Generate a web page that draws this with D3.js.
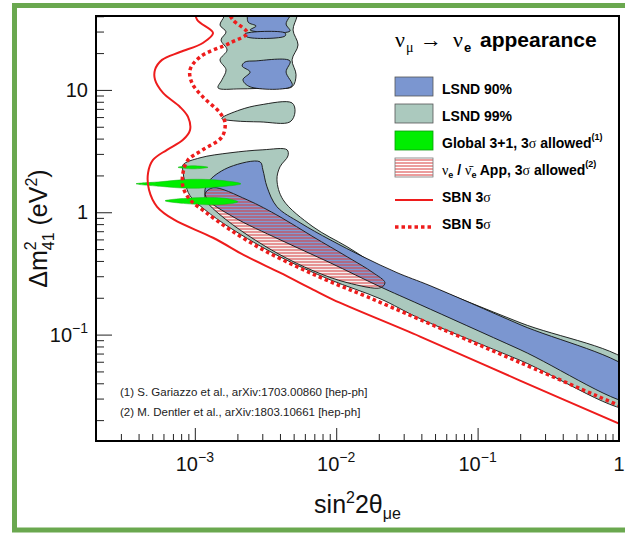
<!DOCTYPE html>
<html>
<head>
<meta charset="utf-8">
<script src="https://cdn.jsdelivr.net/npm/d3@7"></script>
<style>
body { margin: 0; background: #fff; }
svg { display: block; font-family: "Liberation Sans", Arial, Helvetica, sans-serif; }
</style>
</head>
<body>
<svg id="chart" width="625" height="533"></svg>
<script>
// ---- data: [sin^2 2theta, dm^2 (eV^2)] ----
const xMajor = [1e-3, 1e-2, 1e-1, 1]
const xMajorLabels = [['10', '\u22123'], ['10', '\u22122'], ['10', '\u22121'], ['1', '']]
const yMajor = [0.1, 1, 10]
const yMajorLabels = [['10', '\u22121'], ['1', ''], ['10', '']]

const lsnd99Main = [
  [8.25e-4, 2.44], [1.088e-3, 2.786], [1.774e-3, 3.06], [3.03e-3, 3.24], [4.49e-3, 3.24],
  [4.56e-3, 2.89], [4.00e-3, 2.35], [3.81e-3, 1.842], [4.21e-3, 1.265], [6.85e-3, 0.761],
  [1.193e-2, 0.523], [2.04e-2, 0.359], [3.92e-2, 0.266], [0.1995, 0.1253], [1.3, 0.0535],
  [1.3, 0.02503], [0.1995, 0.0617], [3.92e-2, 0.1351], [2.04e-2, 0.1967], [9.04e-3, 0.281],
  [4.00e-3, 0.433], [1.774e-3, 0.747], [1.18e-3, 1.048], [9.25e-4, 1.364], [8.53e-4, 1.741],
  [8.25e-4, 2.14]
]
const lsnd99Top = [
  [1.609e-3, 45], [1.609e-3, 40], [1.507e-3, 33.9], [1.662e-3, 29.8], [1.532e-3, 25.6],
  [1.69e-3, 21.2], [1.507e-3, 17.6], [1.662e-3, 14.6], [1.556e-3, 12.1], [1.459e-3, 10.4],
  [2.088e-3, 10.2], [3.40e-3, 10.4], [4.87e-3, 10.6], [5.20e-3, 13.3], [4.87e-3, 17.6],
  [5.37e-3, 23.3], [4.95e-3, 30.9], [5.28e-3, 40], [5.28e-3, 45]
]
const lsnd99Mid = [
  [1.556e-3, 5.91], [2.088e-3, 6.87], [2.89e-3, 7.54], [4.87e-3, 7.83], [5.11e-3, 6.61],
  [4.71e-3, 5.48], [2.89e-3, 5.48], [1.925e-3, 5.58], [1.556e-3, 5.80]
]
const lsnd90Main = [
  [1.18e-3, 1.527], [1.281e-3, 1.842], [1.774e-3, 2.35], [2.89e-3, 2.584], [3.03e-3, 2.22],
  [3.24e-3, 1.615], [3.81e-3, 1.109], [5.55e-3, 0.821], [9.04e-3, 0.5964], [1.547e-2, 0.433],
  [2.69e-2, 0.321], [4.61e-2, 0.2512], [0.1995, 0.1207], [1.3, 0.0472], [1.3, 0.02828],
  [0.1995, 0.0754], [3.92e-2, 0.1758], [2.04e-2, 0.2464], [9.04e-3, 0.387], [4.00e-3, 0.5964],
  [1.862e-3, 0.919], [1.22e-3, 1.289]
]
const lsnd90Islands = [
  [[2.46e-3, 45], [2.38e-3, 35.9], [2.71e-3, 33.3], [2.46e-3, 30.9], [4.71e-3, 30.3], [4.42e-3, 34.6], [4.87e-3, 45]],
  [[2.26e-3, 28.7], [4.35e-3, 29.2], [4.35e-3, 27.6], [2.34e-3, 27.1]],
  [[2.26e-3, 16.9], [2.67e-3, 17.25], [4.71e-3, 17.25], [4.42e-3, 14.0], [4.87e-3, 10.8],
   [2.46e-3, 10.6], [2.19e-3, 12.1], [2.46e-3, 14.0], [2.16e-3, 15.7]]
]
const appAllowed = [
  [1.18e-3, 1.416], [1.345e-3, 1.585], [2.34e-3, 1.265], [4.00e-3, 0.919], [6.85e-3, 0.631],
  [1.193e-2, 0.433], [1.82e-2, 0.321], [2.21e-2, 0.266], [2.07e-2, 0.242], [1.193e-2, 0.266],
  [6.85e-3, 0.333], [4.00e-3, 0.450], [2.34e-3, 0.655], [1.507e-3, 0.954], [1.22e-3, 1.218]
]
const globalLobes = [
  [[7.60e-4, 2.33], [9.71e-4, 2.40], [1.24e-3, 2.33], [9.71e-4, 2.265]],
  [[3.84e-4, 1.709], [5.67e-4, 1.774], [9.25e-4, 1.859], [1.507e-3, 1.825], [2.12e-3, 1.709],
   [1.507e-3, 1.615], [9.25e-4, 1.570], [5.67e-4, 1.630]],
  [[6.16e-4, 1.241], [1.003e-3, 1.313], [1.635e-3, 1.301], [2.02e-3, 1.218], [1.635e-3, 1.162], [1.003e-3, 1.162]]
]
const sbn3Sigma = [
  [1.0e-3, 45], [1.04e-3, 37.3], [1.345e-3, 29.2], [1.14e-3, 24.2], [7.86e-4, 20.4], [5.86e-4, 17.6],
  [5.23e-4, 14.6], [5.23e-4, 12.1], [5.96e-4, 9.45], [7.86e-4, 7.26], [8.95e-4, 6.02], [9.25e-4, 4.71],
  [8.25e-4, 3.91], [6.36e-4, 3.24], [5.06e-4, 2.68], [4.67e-4, 2.10], [4.74e-4, 1.527], [5.41e-4, 1.109],
  [7.13e-4, 0.869], [1.345e-3, 0.619], [2.34e-3, 0.433], [4.00e-3, 0.321], [6.85e-3, 0.233],
  [9.48e-3, 0.193], [3.92e-2, 0.0964], [0.1995, 0.0421], [1.0, 0.01877]
]
const sbn5Sigma = [
  [1.70e-3, 45], [1.862e-3, 37.3], [2.34e-3, 29.2], [1.774e-3, 24.2], [1.088e-3, 18.6], [9.25e-4, 14.6],
  [9.55e-4, 11.4], [1.14e-3, 8.77], [1.507e-3, 6.49], [1.635e-3, 5.38], [1.556e-3, 4.13], [1.14e-3, 3.24],
  [8.95e-4, 2.68], [8.25e-4, 2.10], [8.25e-4, 1.615], [9.25e-4, 1.265], [1.18e-3, 1.01], [1.774e-3, 0.720],
  [3.03e-3, 0.494], [5.28e-3, 0.359], [9.04e-3, 0.271], [1.65e-2, 0.204], [3.92e-2, 0.1326],
  [0.1995, 0.0591], [1.0, 0.02633]
]
const footnotes = [
  '(1) S. Gariazzo et al., arXiv:1703.00860 [hep-ph]',
  '(2) M. Dentler et al., arXiv:1803.10661 [hep-ph]'
]

const BLUE = '#7b96d0'
const GREY = '#abc9be'
const GREEN = '#00ee00'
const RED = '#ee1c1c'

const frame = { left: 96, right: 619, top: 16, bottom: 441 }
const x = d3.scaleLog().domain([2e-4, 1]).range([frame.left, frame.right])
const y = d3.scaleLog().domain([0.0135, 40.2]).range([frame.bottom, frame.top])

const svg = d3.select('#chart')

// slide border
svg.append('rect')
  .attr('x', 14.5).attr('y', 5.5).attr('width', 660).attr('height', 524.5)
  .attr('fill', 'none').attr('stroke', '#6aa84f').attr('stroke-width', 5)

const defs = svg.append('defs')
defs.append('clipPath').attr('id', 'plotClip')
  .append('rect')
  .attr('x', frame.left).attr('y', frame.top)
  .attr('width', frame.right - frame.left).attr('height', frame.bottom - frame.top)

const hatch = defs.append('pattern').attr('id', 'hatch')
  .attr('patternUnits', 'userSpaceOnUse').attr('width', 8).attr('height', 3)
hatch.append('line').attr('x1', 0).attr('x2', 8).attr('y1', 1).attr('y2', 1)
  .attr('stroke', '#d83a3a').attr('stroke-width', 1)

const closed = d3.line().x(d => x(d[0])).y(d => y(d[1])).curve(d3.curveCatmullRomClosed.alpha(0.5))
const open = d3.line().x(d => x(d[0])).y(d => y(d[1])).curve(d3.curveCatmullRom.alpha(0.5))

defs.append('clipPath').attr('id', 'appClip').append('path').attr('d', closed(appAllowed))

const plot = svg.append('g').attr('clip-path', 'url(#plotClip)')

// LSND 99%
plot.append('g').selectAll('path')
  .data([lsnd99Main, lsnd99Top, lsnd99Mid])
  .join('path')
  .attr('d', closed)
  .attr('fill', GREY).attr('stroke', '#111').attr('stroke-width', 0.9)

// LSND 90%
const blueShapes = [lsnd90Main, ...lsnd90Islands]
plot.append('g').selectAll('path')
  .data(blueShapes)
  .join('path')
  .attr('d', closed)
  .attr('fill', BLUE).attr('stroke', '#111').attr('stroke-width', 0.9)

// nu_e / nu_e-bar appearance allowed region (hatched)
plot.append('path').attr('d', closed(appAllowed)).attr('fill', '#f4eded')
plot.append('path').attr('d', closed(lsnd90Main)).attr('clip-path', 'url(#appClip)')
  .attr('fill', BLUE).attr('opacity', 0.95)
plot.append('path').attr('d', closed(appAllowed)).attr('fill', 'url(#hatch)')
plot.append('path').attr('d', closed(lsnd90Main)).attr('clip-path', 'url(#appClip)')
  .attr('fill', 'none').attr('stroke', '#111').attr('stroke-width', 0.9)
plot.append('path').attr('d', closed(appAllowed))
  .attr('fill', 'none').attr('stroke', '#111').attr('stroke-width', 0.9)

// Global 3+1
plot.append('g').selectAll('path')
  .data(globalLobes)
  .join('path')
  .attr('d', closed)
  .attr('fill', GREEN).attr('stroke', '#19b019').attr('stroke-width', 0.5)

// SBN sensitivities
plot.append('path').attr('d', open(sbn3Sigma))
  .attr('fill', 'none').attr('stroke', RED).attr('stroke-width', 2)
plot.append('path').attr('d', open(sbn5Sigma))
  .attr('fill', 'none').attr('stroke', RED).attr('stroke-width', 3.5)
  .attr('stroke-dasharray', '3.5,3')

// axes ticks (inside the frame)
const yMinor = y.ticks().filter(v => !yMajor.some(m => Math.abs(m - v) / m < 1e-6))
const xMinor = x.ticks().filter(v => !xMajor.some(m => Math.abs(m - v) / m < 1e-6))

const yAxisMinor = svg.append('g').attr('transform', `translate(${frame.left},0)`)
  .call(d3.axisLeft(y).tickValues(yMinor).tickSize(-8).tickFormat(''))
const yAxisMajor = svg.append('g').attr('transform', `translate(${frame.left},0)`)
  .call(d3.axisLeft(y).tickValues(yMajor).tickSize(-16).tickFormat(''))
const xAxisMinor = svg.append('g').attr('transform', `translate(0,${frame.bottom})`)
  .call(d3.axisBottom(x).tickValues(xMinor).tickSize(-7).tickFormat(''))
const xAxisMajor = svg.append('g').attr('transform', `translate(0,${frame.bottom})`)
  .call(d3.axisBottom(x).tickValues(xMajor).tickSize(-13).tickFormat(''))
;[yAxisMinor, yAxisMajor, xAxisMinor, xAxisMajor].forEach(g => {
  g.select('.domain').remove()
  g.selectAll('line').attr('stroke', '#222').attr('stroke-width', 1)
})

svg.append('rect')
  .attr('x', frame.left).attr('y', frame.top)
  .attr('width', frame.right - frame.left).attr('height', frame.bottom - frame.top)
  .attr('fill', 'none').attr('stroke', '#000').attr('stroke-width', 2)

// tick labels
yMajor.forEach((v, i) => {
  const t = svg.append('text').attr('x', 88).attr('y', y(v) + 7)
    .attr('text-anchor', 'end').attr('font-size', 20).attr('fill', '#111')
  t.append('tspan').text(yMajorLabels[i][0])
  if (yMajorLabels[i][1]) t.append('tspan').attr('font-size', 14).attr('dy', -9).text(yMajorLabels[i][1])
})
xMajor.forEach((v, i) => {
  const t = svg.append('text').attr('x', x(v)).attr('y', 471)
    .attr('text-anchor', 'middle').attr('font-size', 20).attr('fill', '#111')
  t.append('tspan').text(xMajorLabels[i][0])
  if (xMajorLabels[i][1]) t.append('tspan').attr('font-size', 14).attr('dy', -9).text(xMajorLabels[i][1])
})

// axis titles
const xt = svg.append('text').attr('x', (frame.left + frame.right) / 2).attr('y', 513)
  .attr('text-anchor', 'middle').attr('font-size', 25).attr('fill', '#111')
xt.append('tspan').text('sin')
xt.append('tspan').attr('font-size', 16).attr('dy', -10).text('2')
xt.append('tspan').attr('dy', 10).text('2\u03b8')
xt.append('tspan').attr('font-size', 16).attr('dy', 6).text('\u03bce')

const yt = svg.append('text').attr('transform', `translate(47,${(frame.top + frame.bottom) / 2}) rotate(-90)`)
  .attr('text-anchor', 'middle').attr('font-size', 25).attr('fill', '#111')
yt.append('tspan').text('\u0394m')
yt.append('tspan').attr('font-size', 16).attr('dy', -11).text('2')
yt.append('tspan').attr('font-size', 16).attr('dx', -9).attr('dy', 18).text('41')
yt.append('tspan').attr('dy', -7).text(' (eV')
yt.append('tspan').attr('font-size', 16).attr('dy', -10).text('2')
yt.append('tspan').attr('dy', 10).text(')')

// footnotes
svg.append('g').selectAll('text')
  .data(footnotes)
  .join('text')
  .attr('x', 120).attr('y', (d, i) => 396 + i * 20)
  .attr('font-size', 11.5).attr('fill', '#222')
  .text(d => d)

// legend title
const serif = '"Liberation Serif", "DejaVu Serif", serif'
const titleG = svg.append('g').attr('fill', '#000')
titleG.append('text').attr('x', 395).attr('y', 47).attr('font-family', serif).attr('font-size', 22).text('\u03bd')
titleG.append('text').attr('x', 406).attr('y', 52).attr('font-family', serif).attr('font-size', 14).text('\u03bc')
titleG.append('text').attr('x', 420).attr('y', 47).attr('font-family', serif).attr('font-size', 22).text('\u2192')
titleG.append('text').attr('x', 453).attr('y', 47).attr('font-family', serif).attr('font-size', 22).text('\u03bd')
titleG.append('text').attr('x', 464).attr('y', 52).attr('font-size', 13).attr('font-weight', 'bold').text('e')
titleG.append('text').attr('x', 480).attr('y', 47).attr('font-size', 21).attr('font-weight', 'bold').text('appearance')

// legend entries
const legendX = 395, legendTextX = 442, rowY = i => 94 + i * 27
const legend = svg.append('g').attr('font-size', 14).attr('font-weight', 'bold')
const boxes = [
  { fill: BLUE, stroke: '#555' },
  { fill: GREY, stroke: '#555' },
  { fill: GREEN, stroke: '#0a9a0a' },
  { fill: 'url(#hatch)', stroke: '#777' }
]
boxes.forEach((b, i) => {
  legend.append('rect').attr('x', legendX).attr('y', rowY(i) - 17).attr('width', 38).attr('height', 19)
    .attr('fill', b.fill).attr('stroke', b.stroke).attr('stroke-width', 0.8)
})
legend.append('line').attr('x1', legendX).attr('x2', legendX + 38).attr('y1', rowY(4) - 2).attr('y2', rowY(4) - 2)
  .attr('stroke', RED).attr('stroke-width', 2)
legend.append('line').attr('x1', legendX).attr('x2', legendX + 38).attr('y1', rowY(5) - 2).attr('y2', rowY(5) - 2)
  .attr('stroke', RED).attr('stroke-width', 3.5).attr('stroke-dasharray', '3.5,3')

legend.append('text').attr('x', legendTextX).attr('y', rowY(0)).text('LSND 90%')
legend.append('text').attr('x', legendTextX).attr('y', rowY(1)).text('LSND 99%')
const g3 = legend.append('text').attr('x', legendTextX).attr('y', rowY(2))
g3.append('tspan').text('Global 3+1, 3')
g3.append('tspan').attr('font-family', serif).attr('font-weight', 'normal').text('\u03c3')
g3.append('tspan').text(' allowed')
g3.append('tspan').attr('font-size', 9).attr('dy', -8).text('(1)')

const app = legend.append('text').attr('x', legendTextX).attr('y', rowY(3))
app.append('tspan').attr('font-family', serif).attr('font-weight', 'normal').text('\u03bd')
app.append('tspan').attr('font-size', 9).attr('dy', 3).text('e')
app.append('tspan').attr('dy', -3).text(' / ')
app.append('tspan').attr('font-family', serif).attr('font-weight', 'normal').text('\u03bd\u0304')
app.append('tspan').attr('font-size', 9).attr('dy', 3).text('e')
app.append('tspan').attr('dy', -3).text(' App, 3')
app.append('tspan').attr('font-family', serif).attr('font-weight', 'normal').text('\u03c3')
app.append('tspan').text(' allowed')
app.append('tspan').attr('font-size', 9).attr('dy', -8).text('(2)')

;[4, 5].forEach((r, k) => {
  const t = legend.append('text').attr('x', legendTextX).attr('y', rowY(r))
  t.append('tspan').text(k === 0 ? 'SBN 3' : 'SBN 5')
  t.append('tspan').attr('font-family', serif).attr('font-weight', 'normal').text('\u03c3')
})
</script>
</body>
</html>
